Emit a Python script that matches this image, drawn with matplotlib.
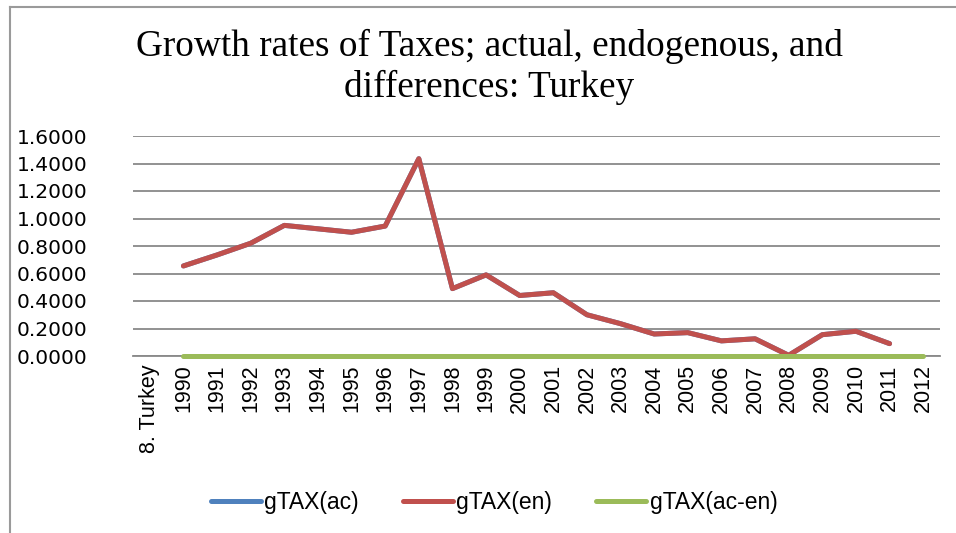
import matplotlib.pyplot as plt
import matplotlib.lines as mlines
import numpy as np

# categories on the x axis
categories = ["8. Turkey", "1990", "1991", "1992", "1993", "1994", "1995",
              "1996", "1997", "1998", "1999", "2000", "2001", "2002", "2003",
              "2004", "2005", "2006", "2007", "2008", "2009", "2010", "2011",
              "2012"]

nan = np.nan
gtax_en = [nan, 0.655, 0.735, 0.82, 0.95, 0.925, 0.90, 0.945, 1.435, 0.49,
           0.59, 0.44, 0.46, 0.30, 0.235, 0.16, 0.17, 0.11, 0.125, 0.005,
           0.155, 0.18, 0.09, nan]
# actual equals endogenous, so the difference is zero everywhere
gtax_ac = list(gtax_en)
gtax_diff = [nan] + [0.0] * 23

series_names = ["gTAX(ac)", "gTAX(en)", "gTAX(ac-en)"]
series_colors = ["#4F81BD", "#C0504D", "#9BBB59"]

yticks = [0.0, 0.2, 0.4, 0.6, 0.8, 1.0, 1.2, 1.4, 1.6]

fig = plt.figure(figsize=(9.56, 5.33), dpi=100)
W, H = 956, 533
ax = fig.add_axes([133 / W, (H - 356) / H, (940 - 133) / W, (356 - 136) / H])

x = np.arange(len(categories))
for vals, name, col in zip([gtax_ac, gtax_en, gtax_diff], series_names, series_colors):
    ax.plot(x, vals, color=col, lw=3.6, solid_capstyle="round",
            solid_joinstyle="round", label=name, zorder=3, clip_on=False)

ax.set_xlim(-0.5, len(categories) - 0.5)
ax.set_ylim(0, 1.6)
ax.set_yticks(yticks)
ax.set_yticklabels([f"{v:.4f}" for v in yticks], fontsize=14.5,
                   family="DejaVu Sans")
ax.set_xticks(x)
ax.set_xticklabels(categories, rotation=90, fontsize=15.5,
                   family=["Liberation Sans Narrow", "Liberation Sans"])
ax.tick_params(axis="both", length=0)
ax.tick_params(axis="y", pad=33)
ax.tick_params(axis="x", pad=6)
ax.grid(axis="y", color="#898989", lw=1.3, zorder=1)
for s in ["left", "right", "top"]:
    ax.spines[s].set_visible(False)
ax.spines["bottom"].set_color("#898989")
ax.spines["bottom"].set_linewidth(1.3)
ax.spines["bottom"].set_zorder(1)
ax.set_axisbelow(True)

fig.text(489 / W, 1 - 46 / H, "Growth rates of Taxes; actual, endogenous, and",
         ha="center", va="center", fontsize=26.8, family="Liberation Serif")
fig.text(489 / W, 1 - 87 / H, "differences: Turkey",
         ha="center", va="center", fontsize=26.8, family="Liberation Serif")

handles = [mlines.Line2D([], [], color=c, lw=3.6, solid_capstyle="round")
           for c in series_colors]
fig.legend(handles, series_names, loc="center", bbox_to_anchor=(494 / W, 1 - 503 / H),
           ncol=3, frameon=False, handlelength=2.2, handletextpad=0.15,
           columnspacing=1.9, prop={"family": "Liberation Sans", "size": 16.5})

# chart area frame (left and top edges visible)
fig.add_artist(mlines.Line2D([9.5 / W, 9.5 / W], [0, 1 - 7 / H],
                             transform=fig.transFigure, color="#9a9a9a", lw=1.5))
fig.add_artist(mlines.Line2D([9.5 / W, 1], [1 - 7 / H, 1 - 7 / H],
                             transform=fig.transFigure, color="#9a9a9a", lw=1.5))

fig.savefig("out.png", dpi=100)
